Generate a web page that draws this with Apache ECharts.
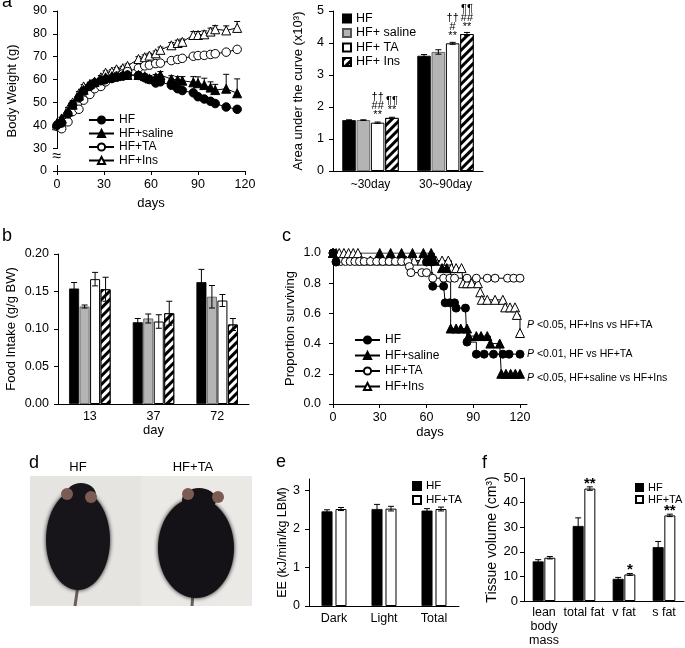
<!DOCTYPE html>
<html><head><meta charset="utf-8">
<script src="https://cdn.jsdelivr.net/npm/echarts@6/dist/echarts.min.js"></script>
<style>html,body{margin:0;padding:0;background:#fff}
#wrap{position:relative;width:685px;height:648px}
#c,#ce{position:absolute;left:0;top:0;width:685px;height:648px}
</style>
</head><body><div id="wrap"><div id="c"></div><div id="ce"></div></div>
<script>
const FONT = '"Liberation Sans", Arial, Helvetica, sans-serif';

// ---------- Panel a (left): body weight ----------
const bwDays = [0,3,7,10,14,17,21,24,28,31,35,38,42,45,52,56,59,63,66,73,77,80,87,90,94,98,101,108,115];
const bwHF   = [40,41,45,49,52,55,57,58.5,59.5,60,60.5,61,61.5,62,61.8,60.8,60,58.5,59,57.5,56,55.2,54.2,52.5,51.5,50.5,49.5,48,47];
const bwHFe  = [0.5,0.5,0.8,0.8,0.8,0.8,0.8,0.8,0.8,0.8,0.8,0.8,0.8,0.8,1,1,1,1,1,1,1,1,1,1,1,1,1,1,1];
const bwSal  = [41,43,46,49,53,55.5,58,59,60,61,61.5,61.5,62,62,62,61.5,60.5,61,62,60.2,59.8,59.5,58.8,58.4,57.6,56.5,55.4,56,54];
const bwSale = [0.5,0.5,0.8,0.8,0.8,0.8,0.8,0.8,0.8,0.8,0.8,0.8,0.8,0.8,1,1,1.2,1.2,1.5,1.5,1.5,1.8,2.5,2.8,3,2.5,2.5,6.3,6.3];
const bwTA   = [39.5,38.5,41.5,46,47,51,53.5,56,57,59,60.5,61.5,62.5,63.5,65,66,66.3,67,67.2,68.3,68.8,69.3,70.2,70.5,70.6,71,71.3,72,73.2];
const bwTAe  = [0.5,0.5,0.5,0.5,0.5,0.5,0.5,0.5,0.5,0.5,0.5,0.5,0.5,0.5,0.6,0.6,0.6,0.6,0.6,0.6,0.6,0.6,0.6,0.6,0.6,0.6,0.6,0.6,0.6];
const bwIns  = [40,43,47,50,54,57,58,59,61,63,63.5,64.5,65,66,69,69.8,70.5,71.5,73,75,76,76.5,79.5,79.5,79.8,81,82,81.5,82.6];
const bwInse = [0.5,0.5,0.8,0.8,0.8,0.8,0.8,0.8,0.8,0.8,0.8,0.8,0.8,0.8,1,1,1,1,1.2,1.2,1.2,1.2,1.5,1.5,1.5,1.5,1.6,2,2.8];

// ---------- Panel a (right): area under the curve ----------
const aucCats = ['~30day','30~90day'];
const aucHF  = [1.59,3.60], aucHFe  = [0.01,0.04];
const aucSal = [1.59,3.72], aucSale = [0.01,0.07];
const aucTA  = [1.51,3.99], aucTAe  = [0.02,0.03];
const aucIns = [1.66,4.28], aucInse = [0.02,0.05];
const aucTAann  = ['††\n##\n**','††\n#\n**'];
const aucInsann = ['¶¶\n**','¶¶\n##\n**'];

// ---------- Panel b: food intake ----------
const fiCats = ['13','37','72'];
const fiHF  = [0.154,0.109,0.1625], fiHFe  = [0.008,0.005,0.017];
const fiSal = [0.130,0.114,0.143],  fiSale = [0.002,0.006,0.015];
const fiTA  = [0.1665,0.110,0.138], fiTAe  = [0.009,0.009,0.008];
const fiIns = [0.153,0.121,0.106],  fiInse = [0.016,0.016,0.008];

// ---------- Panel c: survival ----------
const kmHFd  = [0,2,60,63,64,71,72,75,78,79,85,86,92,97,103,109,113,120];
const kmHFp  = [1,0.94,0.94,0.94,0.78,0.78,0.67,0.67,0.67,0.635,0.635,0.41,0.33,0.33,0.33,0.33,0.33,0.33];
const kmSald = [0,30,37,44,51,58,63,65,70,73,75.5,79,82,86,87,92,95,99,101,107,108,111,114,117,120];
const kmSalp = [1,1,1,1,1,1,1,0.95,0.90,0.90,0.5,0.5,0.5,0.5,0.45,0.45,0.45,0.45,0.40,0.40,0.20,0.20,0.20,0.20,0.20];
const kmTAd  = [0,2,5,8,11,14,17,20,24,28,32,36,40,44,48,49,50,57,60,64,71,75,78,86,92,99,104,112,116,120];
const kmTAp  = [1,0.944,0.944,0.944,0.944,0.944,0.944,0.944,0.944,0.944,0.944,0.944,0.944,0.944,0.944,0.91,0.87,0.87,0.87,0.833,0.833,0.833,0.833,0.833,0.833,0.833,0.833,0.833,0.833,0.833];
const kmInsd = [0,2,4,7,10,13,16,18,24,31,37,42,47,52,57,63,66,70,74,76,79,82.5,83.5,86,89,93,94.5,95.5,99,104,109,110.5,113.6,116.8,118,120];
const kmInsp = [1,1,1,1,1,1,1,0.95,0.95,0.95,0.95,0.95,0.95,0.95,0.95,0.95,0.95,0.95,0.95,0.90,0.90,0.90,0.80,0.80,0.80,0.80,0.74,0.69,0.69,0.69,0.69,0.64,0.64,0.64,0.59,0.47];
const kmP = ['{i|P} <0.05, HF+Ins vs HF+TA','{i|P} <0.01, HF vs HF+TA','{i|P} <0.05, HF+saline vs HF+Ins'];

// ---------- Panel e: energy expenditure ----------
const eeCats = ['Dark','Light','Total'];
const eeTicks = [0,1,2,3];
const eeHF = [2.46,2.52,2.48], eeHFe = [0.04,0.12,0.05];
const eeTA = [2.52,2.53,2.52], eeTAe = [0.04,0.06,0.05];

// ---------- Panel f: tissue volume ----------
const tvCats = ['lean\nbody\nmass','total fat','v fat','s fat'];
const tvHF = [16.1,30.5,9.0,21.9], tvHFe = [0.7,3.3,0.6,2.3];
const tvTA = [17.6,45.7,10.8,34.8], tvTAe = [0.5,0.7,0.4,0.5];
const tvAnn = ['','**','*','**'];

// ---------- styles ----------
const stHF  = {color:'#000', borderColor:'#000', borderWidth:0.8};
const stSal = {color:'#b4b4b4', borderColor:'#555', borderWidth:0.8};
const stTA  = {color:'#fff', borderColor:'#000', borderWidth:1};
const stIns = {color:'#fff', borderColor:'#000', borderWidth:1,
  decal:{symbol:'rect', symbolSize:1, dashArrayX:[1,0], dashArrayY:[2.6,2.6], rotation:-Math.PI/4, color:'#000', backgroundColor:'#fff'}};

const tick = {color:'#000', fontSize:12.5, fontFamily:FONT};
const nameSt = {color:'#000', fontSize:13, fontFamily:FONT};
function vAxis(gi, o){ return Object.assign({type:'value', gridIndex:gi,
  axisLine:{show:true, lineStyle:{color:'#000', width:1}},
  axisTick:{show:true, length:4, lineStyle:{color:'#000'}},
  splitLine:{show:false}, axisLabel:Object.assign({}, tick),
  nameTextStyle:nameSt, nameLocation:'middle'}, o); }
function cAxis(gi, cats, o){ return Object.assign({type:'category', gridIndex:gi, data:cats,
  axisLine:{show:true, lineStyle:{color:'#000', width:1}},
  axisTick:{show:false}, splitLine:{show:false},
  axisLabel:Object.assign({}, tick, {margin:6, interval:0}),
  nameTextStyle:nameSt, nameLocation:'middle'}, o); }

function bar(name, ai, vals, st, bw, gapPct, extra){
  return Object.assign({type:'bar', name, xAxisIndex:ai, yAxisIndex:ai, data:vals,
    barWidth:bw, barGap:gapPct+'%', itemStyle:st, z:2}, extra||{});
}
function barErr(name, ai, vals, errs, idx, n, bw, gapPct){
  const gap = bw*gapPct/100;
  return {type:'custom', name, xAxisIndex:ai, yAxisIndex:ai, silent:true, z:4,
    data: vals.map((v,i)=>[i, v, errs[i]]),
    renderItem:(p, api)=>{
      const i=api.value(0), v=api.value(1), e=api.value(2);
      const off=(idx-(n-1)/2)*(bw+gap);
      const t=api.coord([i, v+e]), b=api.coord([i, v-e]);
      const x=t[0]+off, cw=3;
      const s={stroke:'#000', lineWidth:1};
      return {type:'group', children:[
        {type:'line', shape:{x1:x,y1:t[1],x2:x,y2:b[1]}, style:s},
        {type:'line', shape:{x1:x-cw,y1:t[1],x2:x+cw,y2:t[1]}, style:s},
        {type:'line', shape:{x1:x-cw,y1:b[1],x2:x+cw,y2:b[1]}, style:s}]};
    }};
}
function lineErr(name, xs, vals, errs){
  return {type:'custom', name, xAxisIndex:0, yAxisIndex:0, silent:true, z:1,
    data: xs.map((d,i)=>[d, vals[i], errs[i]]),
    renderItem:(p, api)=>{
      const c=api.coord([api.value(0), api.value(1)]);
      const t=api.coord([api.value(0), api.value(1)+api.value(2)]);
      const s={stroke:'#000', lineWidth:1};
      return {type:'group', children:[
        {type:'line', shape:{x1:c[0],y1:c[1],x2:t[0],y2:t[1]}, style:s},
        {type:'line', shape:{x1:t[0]-3,y1:t[1],x2:t[0]+3,y2:t[1]}, style:s}]};
    }};
}
function lineSer(name, ai, xs, vals, sym, fill, size, extra){
  return Object.assign({type:'line', name, xAxisIndex:ai, yAxisIndex:ai,
    data: xs.map((d,i)=>[d, vals[i]]), symbol:sym, symbolSize:size, showAllSymbol:true,
    itemStyle:{color:fill, borderColor:'#000', borderWidth:1},
    lineStyle:{color:'#000', width:1}, z:3}, extra||{});
}
const fmtName = n => n.split('|')[0];
const legTxt = {color:'#000', fontSize:12, fontFamily:FONT};

const option = {
  animation:false,
  backgroundColor:'#fff',
  grid:[
    {left:57, top:11, width:188, height:160},
    {left:333, top:11, width:150, height:160},
    {left:58, top:254, width:191, height:150},
    {left:333, top:253, width:194, height:151},
    {left:524, top:478, width:160, height:128}
  ],
  xAxis:[
    vAxis(0,{min:0,max:120,interval:30,name:'days',nameGap:26,axisLabel:Object.assign({},tick,{margin:7})}),
    cAxis(1,aucCats,{axisLabel:Object.assign({},tick,{margin:8,fontSize:12,interval:0})}),
    cAxis(2,fiCats,{name:'day',nameGap:19}),
    vAxis(3,{min:0,max:124.5,name:'days',nameGap:22,
      axisLabel:Object.assign({},tick,{margin:7,customValues:[0,30,60,90,120]}),
      axisTick:{show:true,length:4,lineStyle:{color:'#000'},customValues:[0,30,60,90,120]}}),
    cAxis(4,tvCats,{axisLabel:Object.assign({},tick,{margin:5,lineHeight:14,interval:0,hideOverlap:false})})
  ],
  yAxis:[
    vAxis(0,{min:20,max:90,interval:10,name:'Body Weight (g)',nameGap:38,
      axisLabel:Object.assign({},tick,{margin:10,formatter:v=>v===20?'0':String(v)})}),
    vAxis(1,{min:0,max:5,interval:1,name:'Area under the curve (x10³)',nameGap:28,
      axisLabel:Object.assign({},tick,{margin:9})}),
    vAxis(2,{min:0,max:0.2,interval:0.05,name:'Food Intake (g/g BW)',nameGap:40,
      axisLabel:Object.assign({},tick,{margin:9,formatter:v=>v.toFixed(2)})}),
    vAxis(3,{min:0,max:1,interval:0.2,name:'Proportion surviving',nameGap:36,
      axisLabel:Object.assign({},tick,{margin:12,formatter:v=>v.toFixed(1)})}),
    vAxis(4,{min:0,max:50,interval:10,name:'Tissue volume (cm³)',nameGap:24,
      nameTextStyle:Object.assign({},nameSt,{fontSize:14}),
      axisLabel:Object.assign({},tick,{fontSize:13,margin:6})})
  ],
  legend:[
    {orient:'vertical', left:83, top:109, itemWidth:25, itemHeight:9, itemGap:1.5,
      data:['HF|a','HF+saline|a','HF+TA|a','HF+Ins|a'], formatter:fmtName, textStyle:legTxt, selectedMode:false},
    {orient:'vertical', left:337, top:7, itemWidth:8, itemHeight:8, itemGap:1.5, icon:'rect',
      data:['HF|ar','HF+ saline|ar','HF+ TA|ar','HF+ Ins|ar'], formatter:fmtName, textStyle:Object.assign({},legTxt,{fontSize:12.5}), selectedMode:false},
    {orient:'vertical', left:349, top:329, itemWidth:25, itemHeight:9, itemGap:3.5,
      data:['HF|c','HF+saline|c','HF+TA|c','HF+Ins|c'], formatter:fmtName, textStyle:legTxt, selectedMode:false},
    {orient:'vertical', left:630, top:477, itemWidth:7, itemHeight:7, itemGap:1, icon:'rect',
      data:['HF|f','HF+TA|f'], formatter:fmtName, textStyle:Object.assign({},legTxt,{fontSize:11}), selectedMode:false}
  ],
  series:[
    lineErr('eHF', bwDays, bwHF, bwHFe),
    lineErr('eSal', bwDays, bwSal, bwSale),
    lineErr('eTA', bwDays, bwTA, bwTAe),
    lineErr('eIns', bwDays, bwIns, bwInse),
    lineSer('HF+Ins|a',0,bwDays,bwIns,'triangle','#fff',9),
    lineSer('HF+TA|a',0,bwDays,bwTA,'circle','#fff',8.5),
    lineSer('HF+saline|a',0,bwDays,bwSal,'triangle','#000',9),
    lineSer('HF|a',0,bwDays,bwHF,'circle','#000',8.5),
    bar('HF|ar',1,aucHF,stHF,13.5,6),
    bar('HF+ saline|ar',1,aucSal,stSal,13.5,6),
    bar('HF+ TA|ar',1,aucTA,stTA,13.5,6,{label:{show:true,position:'top',distance:3,color:'#000',fontSize:11,lineHeight:9,fontFamily:FONT,formatter:p=>aucTAann[p.dataIndex]}}),
    bar('HF+ Ins|ar',1,aucIns,stIns,13.5,6,{label:{show:true,position:'top',distance:3,color:'#000',fontSize:11,lineHeight:9,fontFamily:FONT,formatter:p=>aucInsann[p.dataIndex]}}),
    barErr('eaHF',1,aucHF,aucHFe,0,4,13.5,6),
    barErr('eaSal',1,aucSal,aucSale,1,4,13.5,6),
    barErr('eaTA',1,aucTA,aucTAe,2,4,13.5,6),
    barErr('eaIns',1,aucIns,aucInse,3,4,13.5,6),
    bar('HF|b',2,fiHF,stHF,10,5),
    bar('HF+saline|b',2,fiSal,stSal,10,5),
    bar('HF+TA|b',2,fiTA,stTA,10,5),
    bar('HF+Ins|b',2,fiIns,stIns,10,5),
    barErr('ebHF',2,fiHF,fiHFe,0,4,10,5),
    barErr('ebSal',2,fiSal,fiSale,1,4,10,5),
    barErr('ebTA',2,fiTA,fiTAe,2,4,10,5),
    barErr('ebIns',2,fiIns,fiInse,3,4,10,5),
    lineSer('HF+Ins|c',3,kmInsd,kmInsp,'triangle','#fff',9,{step:'end'}),
    lineSer('HF+TA|c',3,kmTAd,kmTAp,'circle','#fff',8,{step:'end'}),
    lineSer('HF+saline|c',3,kmSald,kmSalp,'triangle','#000',9,{step:'end'}),
    lineSer('HF|c',3,kmHFd,kmHFp,'circle','#000',8,{step:'end'}),
    bar('HF|f',4,tvHF,stHF,11,6),
    bar('HF+TA|f',4,tvTA,stTA,11,6,{label:{show:true,position:'top',distance:0,color:'#000',fontSize:15,lineHeight:10,fontWeight:'bold',fontFamily:FONT,formatter:p=>tvAnn[p.dataIndex]}}),
    barErr('efHF',4,tvHF,tvHFe,0,2,11,6),
    barErr('efTA',4,tvTA,tvTAe,1,2,11,6)
  ],
  graphic:[
    {type:'text', style:{text:'a', x:2, y:2.5, font:'18px '+FONT, fill:'#000', verticalAlign:'middle'}},
    {type:'text', style:{text:'b', x:2, y:236.5, font:'18px '+FONT, fill:'#000', verticalAlign:'middle'}},
    {type:'text', style:{text:'c', x:282, y:236.5, font:'18px '+FONT, fill:'#000', verticalAlign:'middle'}},
    {type:'text', style:{text:'d', x:29, y:463, font:'18px '+FONT, fill:'#000', verticalAlign:'middle'}},
    {type:'text', style:{text:'f', x:482, y:463, font:'18px '+FONT, fill:'#000', verticalAlign:'middle'}},
    {type:'text', z:50, style:{text:'≈', x:57, y:157, font:'16px '+FONT, fill:'#000', align:'center', verticalAlign:'middle', backgroundColor:'#fff'}},
    {type:'text', style:{text:kmP[0], x:527, y:325, font:'10.5px '+FONT, fill:'#000', verticalAlign:'middle', rich:{i:{fontStyle:'italic', fontSize:10.5, fontFamily:FONT}}}},
    {type:'text', style:{text:kmP[1], x:527, y:354, font:'10.5px '+FONT, fill:'#000', verticalAlign:'middle', rich:{i:{fontStyle:'italic', fontSize:10.5, fontFamily:FONT}}}},
    {type:'text', style:{text:kmP[2], x:527, y:378, font:'10.5px '+FONT, fill:'#000', verticalAlign:'middle', rich:{i:{fontStyle:'italic', fontSize:10.5, fontFamily:FONT}}}},
    {type:'text', style:{text:'HF', x:78, y:467, font:'13px '+FONT, fill:'#000', align:'center', verticalAlign:'middle'}},
    {type:'text', style:{text:'HF+TA', x:193, y:467, font:'13px '+FONT, fill:'#000', align:'center', verticalAlign:'middle'}},
    {type:'rect', shape:{x:30, y:476, width:222, height:130}, style:{fill:'#e6e4e1'}},
    {type:'rect', shape:{x:141, y:476, width:111, height:130}, style:{fill:'#ebe9e6'}},
    {type:'line', shape:{x1:78,y1:585,x2:75,y2:606}, style:{stroke:'#6d5d58', lineWidth:3}},
    {type:'line', shape:{x1:193,y1:592,x2:192,y2:606}, style:{stroke:'#6d5d58', lineWidth:3}},
    {type:'ellipse', shape:{cx:78, cy:540, rx:32, ry:50}, style:{fill:'#17151a', shadowBlur:4, shadowColor:'#17151a'}},
    {type:'ellipse', shape:{cx:81, cy:495, rx:15, ry:12}, style:{fill:'#17151a'}},
    {type:'circle', shape:{cx:67, cy:494, r:6}, style:{fill:'#7b5c55'}},
    {type:'circle', shape:{cx:91, cy:497, r:6}, style:{fill:'#7b5c55'}},
    {type:'ellipse', shape:{cx:196, cy:548, rx:38, ry:50}, style:{fill:'#141216', shadowBlur:4, shadowColor:'#141216'}},
    {type:'ellipse', shape:{cx:199, cy:500, rx:17, ry:12}, style:{fill:'#141216'}},
    {type:'circle', shape:{cx:188, cy:494, r:6}, style:{fill:'#7b5c55'}},
    {type:'circle', shape:{cx:218, cy:497, r:6}, style:{fill:'#7b5c55'}}
  ]
};
echarts.init(document.getElementById('c')).setOption(option);

// ---------- Panel e in its own transparent layer ----------
const optionE = {
  animation:false,
  backgroundColor:'transparent',
  grid:[{left:309, top:479, width:150, height:127}],
  xAxis:[cAxis(0,eeCats,{axisLabel:Object.assign({},tick,{margin:6,interval:0})})],
  yAxis:[{type:'value', gridIndex:0, min:0, max:3.3, name:'EE (kJ/min/kg LBM)', nameLocation:'middle', nameGap:19,
    nameTextStyle:{color:'#000', fontSize:12.5, fontFamily:FONT},
    axisLine:{show:true, lineStyle:{color:'#000'}},
    axisTick:{show:true, length:4, lineStyle:{color:'#000'}, customValues:eeTicks},
    splitLine:{show:false},
    axisLabel:Object.assign({},tick,{margin:9, customValues:eeTicks})}],
  legend:[{orient:'vertical', left:407, top:475, itemWidth:8, itemHeight:8, itemGap:2, icon:'rect',
    data:['HF|e','HF+TA|e'], formatter:fmtName, textStyle:Object.assign({},legTxt,{fontSize:11.5}), selectedMode:false}],
  series:[
    bar('HF|e',0,eeHF,stHF,11,27),
    bar('HF+TA|e',0,eeTA,stTA,11,27),
    barErr('eeHF',0,eeHF,eeHFe,0,2,11,27),
    barErr('eeTA',0,eeTA,eeTAe,1,2,11,27)
  ],
  graphic:[{type:'text', style:{text:'e', x:276, y:462, font:'18px '+FONT, fill:'#000', verticalAlign:'middle'}}]
};
echarts.init(document.getElementById('ce')).setOption(optionE);
</script>
</body></html>
